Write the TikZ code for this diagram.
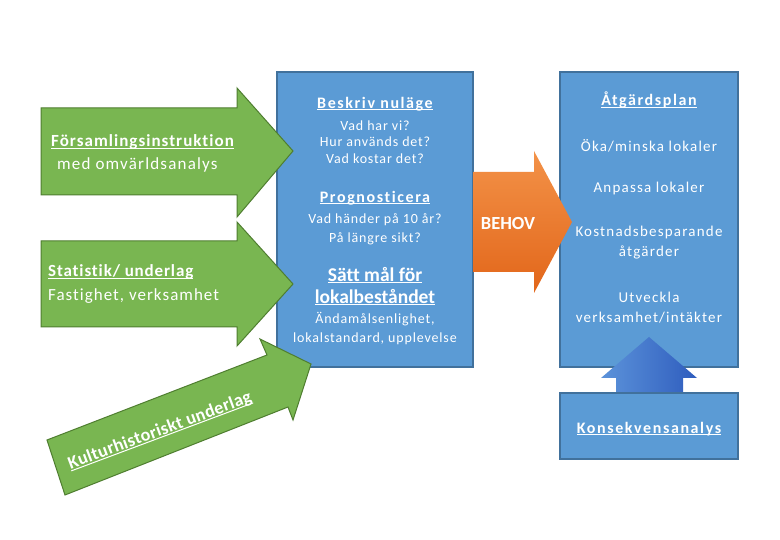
\documentclass[tikz,border=0pt]{standalone}
\usepackage{fontspec}
\setmainfont{Carlito}[Ligatures={NoCommon}]
\newcommand\ulx[1]{\leavevmode\setbox0\hbox{#1}\rlap{\copy0}\rule[-2pt]{\wd0}{1pt}}
\newcommand\lsp[1]{\addfontfeatures{LetterSpace=#1}}
\usetikzlibrary{shadings}
\definecolor{grfill}{HTML}{79B651}
\definecolor{grline}{HTML}{4F7E30}
\definecolor{blfill}{HTML}{5B9BD5}
\definecolor{blline}{HTML}{41719C}
\definecolor{ortop}{HTML}{F39248}
\definecolor{orbot}{HTML}{E2661A}
\definecolor{upl}{HTML}{5C93DA}
\definecolor{upr}{HTML}{2F5DBE}
\tikzset{
  greenarrow/.style={fill=grfill,draw=grline,line width=1pt,line join=miter},
  bluebox/.style={fill=blfill,draw=blline,line width=1.2pt},
  txt/.style={text=white,inner sep=0pt,align=center},
  body/.style={txt,font=\fontsize{14}{17}\selectfont\lsp{6}},
  head/.style={txt,font=\fontsize{16}{22}\selectfont\bfseries\lsp{10}},
  rbody/.style={txt,font=\fontsize{15}{20}\selectfont\lsp{8}},
}
\begin{document}
\begin{tikzpicture}[x=1pt,y=-1pt]
\useasboundingbox[fill=white] (0,0) rectangle (780,540);
% boxes
\draw[bluebox] (277,72) rectangle (473,367);
\draw[bluebox] (560,72) rectangle (738,367);
% orange arrow
\path[top color=ortop,bottom color=orbot]
  (473,172) -- (534,172) -- (534,151) -- (572,222) -- (534,293) -- (534,272) -- (473,272) -- cycle;
\node[txt,font=\fontsize{18.5}{20}\selectfont\bfseries] (behov) at (508,223) {BEHOV};
% up arrow
\path[left color=upl,right color=upr]
  (616,393) -- (616,378) -- (601,378) -- (649,337) -- (697,378) -- (683,378) -- (683,393) -- cycle;
\draw[bluebox] (560,393) rectangle (738,459);
% green arrows
\draw[greenarrow] (41,108) -- (237,108) -- (237,88) -- (293,151) -- (237,217) -- (237,195) -- (41,195) -- cycle;
\draw[greenarrow] (41,241) -- (237,241) -- (237,222) -- (293,284) -- (237,346) -- (237,327) -- (41,327) -- cycle;
\draw[greenarrow] (47,440) -- (267,355) -- (260,339) -- (311,364) -- (293,420) -- (288,407) -- (65,495) -- cycle;
% left texts
\node[txt,anchor=west,font=\fontsize{17}{20}\selectfont\bfseries\lsp{6}] (fi) at (51,142) {\ulx{Församlingsinstruktion}};
\node[txt,anchor=west,font=\fontsize{17}{20}\selectfont\lsp{7}] (fi2) at (57,165) {med omvärldsanalys};
\node[txt,anchor=west,font=\fontsize{17}{20}\selectfont\bfseries\lsp{5}] (st) at (48,272) {\ulx{Statistik/ underlag}};
\node[txt,anchor=west,font=\fontsize{17}{20}\selectfont\lsp{6}] (st2) at (48,296) {Fastighet, verksamhet};
\node[txt,rotate=20.5,font=\fontsize{18}{20}\selectfont\bfseries\lsp{2}] (ku) at (160,431) {\ulx{Kulturhistoriskt underlag}};
% middle box texts
\node[head] (bn) at (375,104) {\ulx{Beskriv nuläge}};
\node[body,font=\fontsize{14}{16.5}\selectfont\lsp{6}] (bn2) at (375,142) {Vad har vi?\\Hur används det?\\Vad kostar det?};
\node[head] (pr) at (375,198) {\ulx{Prognosticera}};
\node[body,font=\fontsize{14}{19}\selectfont\lsp{6}] (pr2) at (375,229) {Vad händer på 10 år?\\På längre sikt?};
\node[txt,font=\fontsize{19.5}{22}\selectfont\bfseries] (sm) at (375,286) {\ulx{Sätt mål för}\\\ulx{lokalbeståndet}};
\node[body,font=\fontsize{14}{19}\selectfont\lsp{6}] (sm2) at (375,329) {Ändamålsenlighet,\\lokalstandard, upplevelse};
% right box texts
\node[head] (ap) at (649,100) {\ulx{Åtgärdsplan}};
\node[rbody] (r1) at (649,146) {Öka/minska lokaler};
\node[rbody] (r2) at (649,189) {Anpassa lokaler};
\node[rbody] (r3) at (649,243) {Kostnadsbesparande\\åtgärder};
\node[rbody] (r4) at (649,308) {Utveckla\\verksamhet/intäkter};
\node[head] (ka) at (649,429) {\ulx{Konsekvensanalys}};
\end{tikzpicture}
\end{document}
